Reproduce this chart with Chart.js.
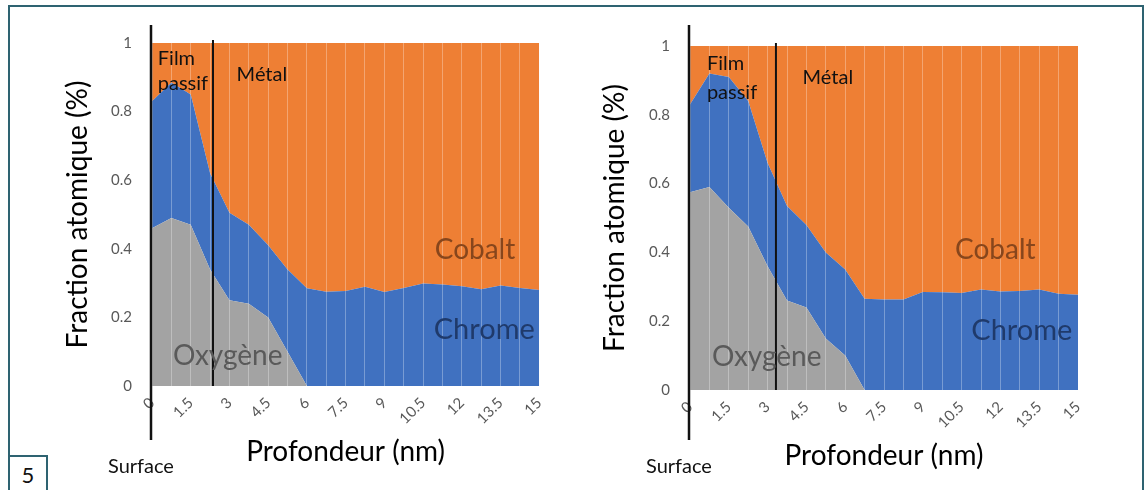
<!DOCTYPE html>
<html>
<head>
<meta charset="utf-8">
<script src="https://cdn.jsdelivr.net/npm/chart.js@4.4.1/dist/chart.umd.min.js"></script>
<style>
    body { margin: 0; width: 1146px; height: 490px; overflow: hidden; position: relative; background: #fff; font-family: Lato, sans-serif; }
    #frame { position: absolute; left: 8px; top: 5px; width: 1132px; height: 600px; border: 2px solid #2e6371; }
    #num { position: absolute; left: 8px; top: 455px; width: 36px; height: 40px; border: 2px solid #2e6371; background: #fff;
           font-size: 22px; line-height: 36px; text-align: center; color: #111; }
    canvas { position: absolute; top: 0; }
</style>
</head>
<body>
<div id="frame"></div>
<canvas id="chartLeft" width="560" height="490" style="left:0"></canvas>
<canvas id="chartRight" width="586" height="490" style="left:560px"></canvas>
<div id="num">5</div>
<script>
// depth categories (nm), one every 0.75 nm; only every other one is labelled
var depth = ['0', '0.75', '1.5', '2.25', '3', '3.75', '4.5', '5.25', '6', '6.75', '7.5',
             '8.25', '9', '9.75', '10.5', '11.25', '12', '12.75', '13.5', '14.25', '15'];
var yTicks = [0, 0.2, 0.4, 0.6, 0.8, 1];

// left profile
var oxygenLeft = [0.46, 0.49, 0.47, 0.34, 0.25, 0.24, 0.20, 0.10, 0, 0, 0, 0, 0, 0, 0, 0, 0, 0, 0, 0, 0];
var chromeLeft = [0.37, 0.395, 0.38, 0.28, 0.255, 0.23, 0.21, 0.24, 0.285, 0.275, 0.277, 0.289, 0.274, 0.286, 0.299, 0.296, 0.291, 0.282, 0.293, 0.286, 0.28];
var cobaltLeft = [0.17, 0.115, 0.15, 0.38, 0.495, 0.53, 0.59, 0.66, 0.715, 0.725, 0.723, 0.711, 0.726, 0.714, 0.701, 0.704, 0.709, 0.718, 0.707, 0.714, 0.72];

// right profile
var oxygenRight = [0.575, 0.59, 0.53, 0.475, 0.36, 0.26, 0.24, 0.15, 0.10, 0, 0, 0, 0, 0, 0, 0, 0, 0, 0, 0, 0];
var chromeRight = [0.255, 0.33, 0.38, 0.365, 0.30, 0.275, 0.24, 0.25, 0.25, 0.265, 0.263, 0.263, 0.285, 0.284, 0.282, 0.292, 0.286, 0.288, 0.292, 0.28, 0.277];
var cobaltRight = [0.17, 0.08, 0.09, 0.16, 0.34, 0.465, 0.52, 0.60, 0.65, 0.735, 0.737, 0.737, 0.715, 0.716, 0.718, 0.708, 0.714, 0.712, 0.708, 0.72, 0.723];

var FONT = 'Lato';
var TITLE_SIZE = 28;

// black marker lines and in-plot labels
var annotate = {
    id: 'annotate',
    afterDraw: function(chart) {
        var o = chart.options.plugins.annotate;
        var ctx = chart.ctx, x = chart.scales.x, y = chart.scales.y;
        ctx.save();
        ctx.strokeStyle = '#111';
        ctx.lineWidth = 2.5;
        var sx = x.getPixelForValue(0) - 1;
        ctx.beginPath(); ctx.moveTo(sx, 25); ctx.lineTo(sx, 440); ctx.stroke();
        var mx = x.getPixelForValue(o.metalLine);
        ctx.lineWidth = 2;
        ctx.beginPath(); ctx.moveTo(mx, y.getPixelForValue(1) - 3); ctx.lineTo(mx, y.getPixelForValue(0)); ctx.stroke();

        ctx.textBaseline = 'middle';
        ctx.textAlign = 'left';
        o.labels.forEach(function(l) {
            ctx.font = l.size + 'px ' + FONT;
            ctx.fillStyle = l.color;
            ctx.fillText(l.text, x.getPixelForValue(l.x), y.getPixelForValue(l.y));
        });
        ctx.font = '20px ' + FONT;
        ctx.fillStyle = '#111';
        ctx.fillText('Surface', sx - 43, 467);
        ctx.restore();
    }
};

function makeChart(id, oxygen, chrome, cobalt, geo) {
    return new Chart(document.getElementById(id), {
        type: 'line',
        data: {
            labels: depth,
            datasets: [
                { label: 'Oxygène', data: oxygen, backgroundColor: '#a3a3a3', fill: 'origin' },
                { label: 'Chrome', data: chrome, backgroundColor: '#4071c0', fill: '-1' },
                { label: 'Cobalt', data: cobalt, backgroundColor: '#ee7f34', fill: '-1' }
            ]
        },
        options: {
            responsive: false,
            animation: false,
            devicePixelRatio: 1,
            elements: {
                line: { borderWidth: 0, tension: 0 },
                point: { radius: 0 }
            },
            layout: { padding: { left: 0, top: geo.top, right: geo.right, bottom: geo.bottom } },
            plugins: {
                legend: { display: false },
                tooltip: { enabled: false },
                annotate: { metalLine: geo.metalLine, labels: geo.labels }
            },
            scales: {
                x: {
                    offset: false,
                    grid: { z: 1, color: 'rgba(255,255,255,0.3)', lineWidth: 1, drawTicks: false },
                    border: { display: false },
                    ticks: {
                        autoSkip: false, minRotation: 45, maxRotation: 45, padding: 8,
                        color: '#595959', font: { family: FONT, size: 15 },
                        callback: function(val, i) { return i % 2 === 0 ? this.getLabelForValue(val) : ''; }
                    },
                    title: { display: true, text: 'Profondeur (nm)', color: '#000', font: { family: FONT, size: TITLE_SIZE }, padding: { top: 0, bottom: 0 } },
                    afterFit: function(scale) { scale.height = 83; }
                },
                y: {
                    stacked: true,
                    min: 0,
                    max: 1,
                    grid: { display: false },
                    border: { display: false },
                    afterBuildTicks: function(scale) { scale.ticks = yTicks.map(function(v) { return { value: v }; }); },
                    ticks: {
                        padding: 12, color: '#595959', font: { family: FONT, size: 15 },
                        callback: function(v) { return String(v); }
                    },
                    title: { display: true, text: 'Fraction atomique (%)', color: '#000', font: { family: FONT, size: TITLE_SIZE }, padding: { top: geo.titleX - TITLE_SIZE * 0.6 } },
                    afterFit: function(scale) { scale.width = geo.axisWidth; }
                }
            }
        },
        plugins: [annotate]
    });
}

makeChart('chartLeft', oxygenLeft, chromeLeft, cobaltLeft, {
    top: 43, right: 19, bottom: 21, axisWidth: 152, titleX: 78, metalLine: 3.15,
    labels: [
        { text: 'Film', x: 0.3, y: 0.956, size: 20, color: '#111' },
        { text: 'passif', x: 0.3, y: 0.883, size: 20, color: '#111' },
        { text: 'Métal', x: 4.37, y: 0.907, size: 20, color: '#111' },
        { text: 'Cobalt', x: 14.6, y: 0.397, size: 28, color: '#87461c' },
        { text: 'Chrome', x: 14.55, y: 0.163, size: 29, color: '#1f3a6b' },
        { text: 'Oxygène', x: 1.08, y: 0.087, size: 28, color: '#5a5a5a' }
    ]
});

makeChart('chartRight', oxygenRight, chromeRight, cobaltRight, {
    top: 46, right: 68, bottom: 17, axisWidth: 130, titleX: 55, metalLine: 4.43,
    labels: [
        { text: 'Film', x: 0.87, y: 0.95, size: 20, color: '#111' },
        { text: 'passif', x: 0.87, y: 0.866, size: 20, color: '#111' },
        { text: 'Métal', x: 5.8, y: 0.907, size: 20, color: '#111' },
        { text: 'Cobalt', x: 13.66, y: 0.407, size: 28, color: '#87461c' },
        { text: 'Chrome', x: 14.5, y: 0.174, size: 29, color: '#1f3a6b' },
        { text: 'Oxygène', x: 1.13, y: 0.096, size: 28, color: '#5a5a5a' }
    ]
});
</script>
</body>
</html>
